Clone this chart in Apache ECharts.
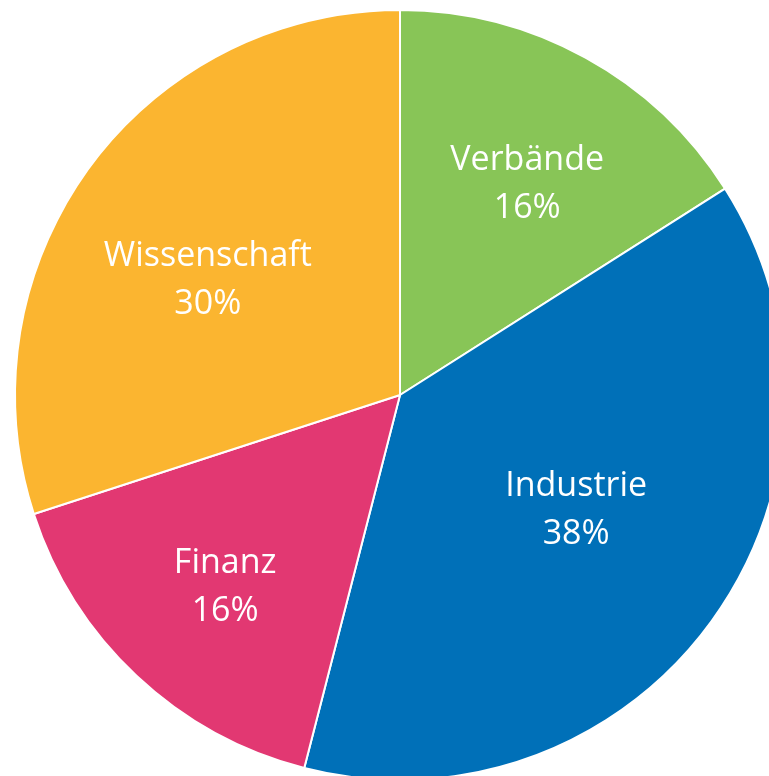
<!DOCTYPE html>
<html>
<head>
<meta charset="utf-8">
<script src="https://cdn.jsdelivr.net/npm/echarts@6/dist/echarts.min.js"></script>
<style>
  html, body { margin: 0; padding: 0; background: #fff; }
  #chart { width: 769px; height: 776px; }
</style>
</head>
<body>
<div id="chart"></div>
<script>
// Daten
var categories = ['Verbände', 'Industrie', 'Finanz', 'Wissenschaft'];
var shares = [16, 38, 16, 30];

var colors = ['#88c557', '#0070b8', '#e23872', '#fbb530'];
// label nudges from the default inside position (r/2)
var labelOffsets = [[33, -39], [18, 0], [-41, 50], [-34, 0]];

var myChart = echarts.init(document.getElementById('chart'));

var pieData = categories.map(function (name, i) {
    return {
        name: name,
        value: shares[i],
        itemStyle: { color: colors[i] },
        label: { offset: labelOffsets[i] }
    };
});

var option = {
    animation: false,
    series: [
        {
            type: 'pie',
            center: [400, 395],
            radius: [0, 385],
            startAngle: 90,
            clockwise: true,
            avoidLabelOverlap: false,
            itemStyle: {
                borderColor: '#ffffff',
                borderWidth: 2
            },
            label: {
                show: true,
                position: 'inside',
                color: '#ffffff',
                fontFamily: 'Open Sans',
                fontSize: 34,
                lineHeight: 48,
                formatter: function (p) {
                    return p.name + '\n' + p.value + '%';
                }
            },
            labelLine: { show: false },
            emphasis: { disabled: true },
            data: pieData
        }
    ]
};

myChart.setOption(option);
</script>
</body>
</html>
